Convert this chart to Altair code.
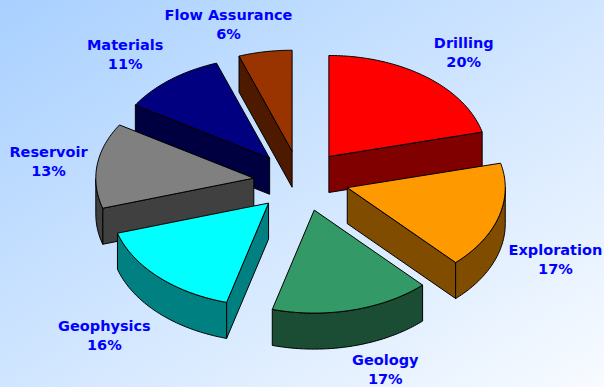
import math
import altair as alt

# Discipline shares of the pie, clockwise from twelve o'clock
categories = ["Drilling", "Exploration", "Geology", "Geophysics", "Reservoir", "Materials", "Flow Assurance"]
shares = [20, 17, 17, 16, 13, 11, 6]
top_colors = ["#FF0000", "#FF9900", "#339966", "#00FFFF", "#808080", "#000080", "#993300"]
side_colors = ["#800000", "#804D00", "#1A4D33", "#008080", "#404040", "#000040", "#4D1A00"]

# Pie projection, in pixels
CX, CY = 301, 181
RX = 158
RY_BACK, RY_FRONT = 101, 103
DEPTH = 36
EXPLODE = 0.30

# Small angular correction for the camera perspective: (rim angle, degrees added)
camera_warp = [(0, 0), (72, 4), (133, 3.5), (194, 1), (252, 1), (299, 3), (338, 2), (360, 0)]

# Label offsets from the exploded rim midpoint
label_nudge = [(42, -31), (54, 41), (27, 54), (-56, 50), (-48, -16), (-40, -37), (-34, -36)]


def warped(deg):
    for (a0, w0), (a1, w1) in zip(camera_warp, camera_warp[1:]):
        if a0 <= deg <= a1:
            return deg + w0 + (w1 - w0) * (deg - a0) / (a1 - a0)
    return deg


def rim(deg, ox, oy, drop=0):
    t = math.radians(warped(deg))
    c = math.cos(t)
    ry = RY_BACK if c > 0 else RY_FRONT
    return [ox + RX * math.sin(t), oy - ry * c + drop]


def feature(ring, fill):
    return {
        "type": "Feature",
        "properties": {"fill": fill},
        "geometry": {"type": "Polygon", "coordinates": [ring + [ring[0]]]},
    }


def slice_faces(start, end, top, side):
    mid = math.radians((start + end) / 2)
    ox = CX + EXPLODE * RX * math.sin(mid)
    oy = CY - EXPLODE * RY_BACK * math.cos(mid)
    apex = [ox, oy]
    low_apex = [ox, oy + DEPTH]
    faces = []
    # radial walls that face the viewer
    for deg, seen in ((start, math.sin(math.radians(start)) < 0), (end, math.sin(math.radians(end)) > 0)):
        if seen:
            faces.append(feature([apex, rim(deg, ox, oy), rim(deg, ox, oy, DEPTH), low_apex], side))
    # curved outer wall on the front half
    lo, hi = max(start, 86), min(end, 268)
    if lo < hi:
        n = max(2, int(hi - lo))
        angles = [lo + (hi - lo) * i / n for i in range(n + 1)]
        ring = [rim(a, ox, oy) for a in angles] + [rim(a, ox, oy, DEPTH) for a in reversed(angles)]
        faces.append(feature(ring, side))
    # top face
    n = max(2, int(end - start))
    ring = [apex] + [rim(start + (end - start) * i / n, ox, oy) for i in range(n + 1)]
    faces.append(feature(ring, top))
    return faces, oy


slices = []
labels = []
running = 0
for name, share, top, side, nudge in zip(categories, shares, top_colors, side_colors, label_nudge):
    start = running * 3.6
    end = (running + share) * 3.6
    running += share
    faces, depth_key = slice_faces(start, end, top, side)
    slices.append((depth_key, faces))
    mid = math.radians((start + end) / 2)
    labels.append({
        "text": f"{name}\n{share}%",
        "px": CX + (1 + EXPLODE) * RX * math.sin(mid) + nudge[0],
        "py": CY - (1 + EXPLODE) * RY_BACK * math.cos(mid) + nudge[1],
    })

# Paint from the back of the pie to the front
features = [f for _, faces in sorted(slices, key=lambda s: s[0]) for f in faces]

backdrop = alt.Chart(alt.Data(values=[{}])).mark_rect(
    color=alt.LinearGradient(
        gradient="linear",
        x1=0, y1=0, x2=1, y2=1,
        stops=[
            alt.GradientStop(color="#A8D0FF", offset=0),
            alt.GradientStop(color="#F8FBFF", offset=1),
        ],
    )
).encode(x=alt.value(0), x2=alt.value(604), y=alt.value(0), y2=alt.value(387))

pie = alt.Chart(
    alt.Data(values={"type": "FeatureCollection", "features": features},
             format=alt.DataFormat(property="features", type="json"))
).mark_geoshape(stroke="#000000", strokeWidth=1).encode(
    fill=alt.Fill("properties.fill:N", scale=None)
).project(type="identity", scale=1, translate=[0, 0])

text = alt.Chart(alt.Data(values=labels)).mark_text(
    font="DejaVu Sans", fontWeight="bold", fontSize=14.5, color="#0000FF",
    lineBreak="\n", lineHeight=19, align="center", baseline="middle",
).encode(
    x=alt.X("px:Q", scale=None),
    y=alt.Y("py:Q", scale=None),
    text="text:N",
)

chart = alt.layer(backdrop, pie, text).properties(
    width=604, height=387, padding=0, autosize=alt.AutoSizeParams(type="none"),
).configure_view(stroke=None)

chart.save("out.html", embed_options={"renderer": "svg", "actions": False})
